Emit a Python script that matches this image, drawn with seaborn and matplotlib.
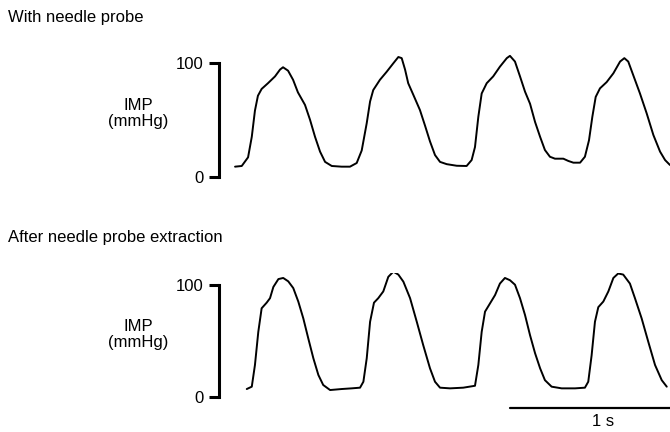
import numpy as np
import pandas as pd
import matplotlib
matplotlib.use("Agg")
import matplotlib.pyplot as plt
import seaborn as sns

# ---------------- data (time in s, IMP in mmHg) ----------------
top_time = [0.011, 0.047, 0.081, 0.101, 0.118, 0.134, 0.154, 0.188, 0.226, 0.253,
            0.269, 0.296, 0.323, 0.349, 0.387, 0.414, 0.441, 0.468, 0.495, 0.531,
            0.584, 0.629, 0.665, 0.692, 0.719, 0.737, 0.754, 0.790, 0.826, 0.862,
            0.889, 0.907, 0.925, 0.942, 0.969, 1.005, 1.032, 1.059, 1.086, 1.113,
            1.149, 1.203, 1.256, 1.283, 1.301, 1.319, 1.337, 1.364, 1.399, 1.435,
            1.472, 1.489, 1.516, 1.543, 1.570, 1.597, 1.624, 1.651, 1.677, 1.704,
            1.731, 1.776, 1.803, 1.830, 1.866, 1.892, 1.914, 1.932, 1.950, 1.973,
            2.009, 2.045, 2.081, 2.104, 2.125, 2.152, 2.188, 2.224, 2.260, 2.296,
            2.323, 2.349]
top_imp = [8.8, 9.4, 17, 35, 58, 71, 77, 82, 88, 94,
           96, 93, 85, 74, 63, 50, 35, 22, 13, 9.4,
           8.8, 8.8, 12, 23, 47, 66, 76, 85, 92, 99.5,
           105, 104, 94, 82, 72, 58.5, 45, 31, 19, 13,
           11, 9.6, 9.4, 14.6, 26, 52.6, 73, 82, 88, 96.5,
           104, 106, 101, 88, 74.6, 64, 48, 35, 23.4, 17.5,
           15.8, 15.8, 13.8, 12.3, 12.3, 17.5, 32, 52.6, 70, 77.5,
           83, 90.7, 101, 104, 101, 89, 73, 55.6, 36.6, 22,
           14.6, 10.3]

bot_time = [0.074, 0.101, 0.118, 0.136, 0.154, 0.181, 0.199, 0.217, 0.244, 0.270,
            0.297, 0.324, 0.351, 0.378, 0.405, 0.432, 0.459, 0.485, 0.522, 0.584,
            0.638, 0.683, 0.701, 0.719, 0.737, 0.758, 0.781, 0.808, 0.835, 0.862,
            0.889, 0.916, 0.952, 0.988, 1.023, 1.059, 1.086, 1.113, 1.167, 1.238,
            1.301, 1.319, 1.337, 1.355, 1.382, 1.409, 1.435, 1.462, 1.489, 1.516,
            1.543, 1.570, 1.597, 1.624, 1.651, 1.677, 1.713, 1.767, 1.839, 1.892,
            1.910, 1.928, 1.946, 1.964, 1.991, 2.018, 2.045, 2.071, 2.098, 2.134,
            2.161, 2.197, 2.233, 2.269, 2.305, 2.332]
bot_imp = [7.1, 9.2, 28.5, 58, 79, 84, 88, 98, 105, 106,
           103, 97, 85, 70, 52, 34.5, 19.6, 10.7, 6.2, 7.1,
           7.7, 8.3, 13.6, 34.5, 67, 84, 88, 94, 107, 111.6,
           109, 102.7, 88, 67, 46, 25.6, 13.6, 8.3, 7.7, 8.3,
           10, 28.5, 58, 76, 83.4, 90.8, 101, 106, 104, 100,
           88, 73, 55, 39, 25.6, 15, 9.2, 7.7, 7.7, 8.3,
           13.6, 37, 67, 80, 85, 94, 106, 110, 109, 101,
           88, 70, 49, 28.5, 15, 9.2]

panel_titles = ["With needle probe", "After needle probe extraction"]
y_label = ["IMP", "(mmHg)"]
y_ticks = [0, 100]
y_ticklabels = ["0", "100"]
scale_bar = [1.489, 2.489]   # 1 s
scale_label = "1 s"

# ---------------- style ----------------
sns.set_style("white")
plt.rcParams['font.family'] = ['Liberation Sans', 'DejaVu Sans']
plt.rcParams['text.color'] = 'black'

W, H = 670, 432
fig = plt.figure(figsize=(W / 100, H / 100), dpi=100)

x_left_px = 219
xlim = ((x_left_px - 233) / 186, (W - 233) / 186)
ylim = (-10, 110)

def make_axes(y0_px, px_per_unit):
    top_px = y0_px - ylim[1] * px_per_unit
    bot_px = y0_px - ylim[0] * px_per_unit
    return fig.add_axes([x_left_px / W, 1 - bot_px / H,
                         1 - x_left_px / W, (bot_px - top_px) / H])

panels = [
    dict(y0=176.7, ppu=1.14, t=top_time, v=top_imp, title_base=22,
         imp_base=110, unit_base=126),
    dict(y0=397.0, ppu=1.123, t=bot_time, v=bot_imp, title_base=242,
         imp_base=331, unit_base=347),
]

axes = []
for i, p in enumerate(panels):
    ax = make_axes(p["y0"], p["ppu"])
    axes.append(ax)
    df = pd.DataFrame({"t": p["t"], "imp": p["v"]})
    sns.lineplot(data=df, x="t", y="imp", ax=ax, sort=False, estimator=None,
                 color="black", linewidth=1.4)
    ax.set_xlim(*xlim)
    ax.set_ylim(*ylim)
    ax.set_xticks([])
    ax.set_yticks(y_ticks)
    ax.set_yticklabels(y_ticklabels, fontsize=12, color="black")
    ax.set_xlabel("")
    ax.set_ylabel("")
    for s in ["top", "right", "bottom"]:
        ax.spines[s].set_visible(False)
    ax.spines["left"].set_bounds(0, 100)
    ax.spines["left"].set_linewidth(2.2)
    ax.spines["left"].set_color("black")
    ax.tick_params(axis="y", left=True, direction="out", length=7.5, width=2.2,
                   color="black", labelcolor="black", pad=3.5, labelsize=12)
    ax.patch.set_alpha(0)

    fig.text(8 / W, 1 - p["title_base"] / H, panel_titles[i], fontsize=12,
             ha="left", va="baseline", color="black")
    fig.text(138 / W, 1 - p["imp_base"] / H, y_label[0], fontsize=12,
             ha="center", va="baseline", color="black")
    fig.text(138 / W, 1 - p["unit_base"] / H, y_label[1], fontsize=12,
             ha="center", va="baseline", color="black")

# scale bar in the lower panel
axb = axes[1]
sns.lineplot(x=scale_bar, y=[-9.5, -9.5], ax=axb, color="black",
             linewidth=1.6, sort=False, estimator=None)
for ln in axb.lines[-1:]:
    ln.set_clip_on(False)
axb.set_xlim(*xlim)
axb.set_ylim(*ylim)
axb.text(sum(scale_bar) / 2, -26.0, scale_label, ha="center", va="baseline",
         fontsize=12, clip_on=False, color="black")

fig.savefig("out.png", dpi=100, facecolor="white")
